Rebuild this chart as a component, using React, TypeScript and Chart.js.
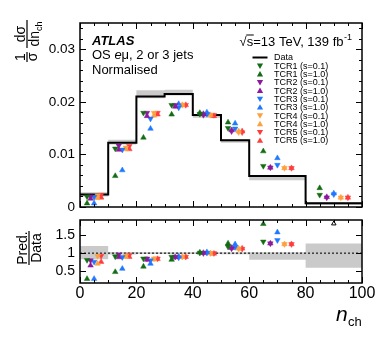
import { useEffect, useRef } from 'react';
import { Chart, registerables } from 'chart.js';

Chart.register(...registerables);

const FONT = '"Liberation Sans", Arial, Helvetica, sans-serif';

// ---------- data ----------
const binEdges = [0, 10, 20, 30, 40, 50, 60, 80, 100];
const dataValues = [0.0024, 0.0122, 0.0210, 0.0215, 0.0175, 0.0127, 0.0059, 0.0007];
const dataBandLow = [0.0020, 0.0119, 0.0207, 0.0212, 0.0170, 0.0122, 0.0051, 0.0004];
const dataBandHigh = [0.0028, 0.0128, 0.0222, 0.0223, 0.0177, 0.0129, 0.0060, 0.0009];
const ratioBandLow = [0.83, 0.965, 0.975, 0.975, 0.975, 0.97, 0.82, 0.60];
const ratioBandHigh = [1.20, 1.035, 1.025, 1.025, 1.025, 1.03, 1.03, 1.27];

const modelNames = ['TCR1', 'TCR2', 'TCR3', 'TCR4', 'TCR5'];
const modelColors = ['#146c14', '#8c1a9c', '#1f78ff', '#ffa040', '#ff3c3c'];
const modelOffsets = [0.25, 0.375, 0.5, 0.625, 0.75];
const sValues = ['0.1', '1.0'];

// top panel: 1/sigma dsigma/dn_ch
const tcr1s01 = [0.0020, 0.0111, 0.0179, 0.0194, 0.0177, 0.0150, 0.0078, 0.0023];
const tcr1s10 = [0.0007, 0.0059, 0.0132, 0.0176, 0.0179, 0.0161, 0.0106, 0.0036];
const tcr2s01 = [0.0020, 0.0117, 0.0179, 0.0194, 0.0175, 0.0144, 0.0075, 0.0018];
const tcr2s10 = [0.0016, 0.0109, 0.0173, 0.0191, 0.0177, 0.0146, 0.0075, 0.0019];
const tcr3s01 = [0.0019, 0.0109, 0.0168, 0.0189, 0.0177, 0.0149, 0.0080, 0.0024];
const tcr3s10 = [0.0007, 0.0070, 0.0149, 0.0196, 0.0180, 0.0159, 0.0093, 0.0026];
const tcr4s01 = [0.0022, 0.0113, 0.0179, 0.0194, 0.0175, 0.0142, 0.0074, 0.0018];
const tcr4s10 = [0.0017, 0.0110, 0.0174, 0.0194, 0.0175, 0.0144, 0.0074, 0.0018];
const tcr5s01 = [0.0023, 0.0116, 0.0179, 0.0194, 0.0175, 0.0142, 0.0074, 0.0018];
const tcr5s10 = [0.0018, 0.0110, 0.0176, 0.0194, 0.0173, 0.0144, 0.0074, 0.0018];

// ratio panel: Pred./Data (last bin off scale)
const tcr1s01Ratio = [0.81, 0.91, 0.85, 0.90, 1.01, 1.18, 1.32, null];
const tcr1s10Ratio = [0.29, 0.48, 0.63, 0.82, 1.02, 1.27, 1.81, null];
const tcr2s01Ratio = [0.80, 0.96, 0.85, 0.90, 1.00, 1.13, 1.27, null];
const tcr2s10Ratio = [0.66, 0.89, 0.82, 0.89, 1.01, 1.15, 1.27, null];
const tcr3s01Ratio = [0.76, 0.89, 0.80, 0.88, 1.01, 1.17, 1.36, null];
const tcr3s10Ratio = [0.29, 0.57, 0.71, 0.91, 1.03, 1.25, 1.58, null];
const tcr4s01Ratio = [0.92, 0.93, 0.85, 0.90, 1.00, 1.12, 1.25, null];
const tcr4s10Ratio = [0.71, 0.90, 0.83, 0.90, 1.00, 1.13, 1.25, null];
const tcr5s01Ratio = [0.93, 0.95, 0.85, 0.90, 1.00, 1.12, 1.25, null];
const tcr5s10Ratio = [0.76, 0.90, 0.84, 0.90, 0.99, 1.13, 1.25, null];
const offScaleArrowX = [90];
const offScaleArrowY = [1.82];

const topYTicks = [0, 0.01, 0.02, 0.03];
const topYLabels = ['0', '0.01', '0.02', '0.03'];
const ratioYTicks = [0.5, 1, 1.5];
const ratioYLabels = ['0.5', '1', '1.5'];
const xTicks = [0, 20, 40, 60, 80, 100];
const xLabels = ['0', '20', '40', '60', '80', '100'];

const series = [
  { m: 0, s: 0, top: tcr1s01, ratio: tcr1s01Ratio },
  { m: 0, s: 1, top: tcr1s10, ratio: tcr1s10Ratio },
  { m: 1, s: 0, top: tcr2s01, ratio: tcr2s01Ratio },
  { m: 1, s: 1, top: tcr2s10, ratio: tcr2s10Ratio },
  { m: 2, s: 0, top: tcr3s01, ratio: tcr3s01Ratio },
  { m: 2, s: 1, top: tcr3s10, ratio: tcr3s10Ratio },
  { m: 3, s: 0, top: tcr4s01, ratio: tcr4s01Ratio },
  { m: 3, s: 1, top: tcr4s10, ratio: tcr4s10Ratio },
  { m: 4, s: 0, top: tcr5s01, ratio: tcr5s01Ratio },
  { m: 4, s: 1, top: tcr5s10, ratio: tcr5s10Ratio },
];

// ---------- helpers ----------
function stepPoints(vals: number[]) {
  return binEdges.map((e, i) => ({ x: e, y: vals[Math.min(i, vals.length - 1)] }));
}
function markerPoints(vals: (number | null)[], m: number) {
  const pts: { x: number; y: number }[] = [];
  vals.forEach((v, i) => {
    if (v == null) return;
    const lo = binEdges[i];
    const hi = binEdges[i + 1];
    pts.push({ x: lo + modelOffsets[m] * (hi - lo), y: v });
  });
  return pts;
}
function markerDatasets(key: 'top' | 'ratio') {
  return series.map((sr) => ({
    type: 'line' as const,
    label: `${modelNames[sr.m]} (s=${sValues[sr.s]})`,
    data: markerPoints(sr[key], sr.m),
    showLine: false,
    pointStyle: 'triangle',
    rotation: sr.s === 0 ? 180 : 0,
    pointRadius: 3.2,
    pointBorderWidth: 0.5,
    pointBackgroundColor: modelColors[sr.m],
    pointBorderColor: modelColors[sr.m],
    borderColor: modelColors[sr.m],
    backgroundColor: modelColors[sr.m],
    order: 1,
  }));
}
function bandDatasets(lo: number[], hi: number[]) {
  return [
    {
      type: 'line' as const,
      label: 'bandLow',
      data: stepPoints(lo),
      stepped: 'before',
      borderWidth: 0,
      borderColor: 'rgba(0,0,0,0)',
      pointRadius: 0,
      fill: false,
      order: 5,
    },
    {
      type: 'line' as const,
      label: 'bandHigh',
      data: stepPoints(hi),
      stepped: 'before',
      borderWidth: 0,
      borderColor: 'rgba(0,0,0,0)',
      backgroundColor: '#cacaca',
      pointRadius: 0,
      fill: '-1',
      order: 4,
    },
  ];
}

function triPath(ctx: CanvasRenderingContext2D, x: number, y: number, r: number, down: boolean) {
  const s = down ? -1 : 1;
  const hx = r * Math.sin(Math.PI / 3);
  ctx.beginPath();
  ctx.moveTo(x, y - s * r);
  ctx.lineTo(x + hx, y + (s * r) / 2);
  ctx.lineTo(x - hx, y + (s * r) / 2);
  ctx.closePath();
}

function frameTicksPlugin(yMinorStep: number | null, yMajors: number[], yMin: number, yMax: number) {
  return {
    id: 'frameTicks',
    afterDatasetsDraw(chart: any) {
      const { ctx, chartArea: a, scales } = chart;
      const x = scales.x;
      const y = scales.y;
      ctx.save();
      ctx.strokeStyle = '#000';
      ctx.lineWidth = 1;
      ctx.beginPath();
      for (let v = 0; v <= 100.001; v += 5) {
        const px = Math.round(x.getPixelForValue(v)) + 0.5;
        const len = v % 20 === 0 ? 6 : 3;
        ctx.moveTo(px, a.bottom);
        ctx.lineTo(px, a.bottom - len);
        ctx.moveTo(px, a.top);
        ctx.lineTo(px, a.top + len);
      }
      const ys: { v: number; major: boolean }[] = yMajors.map((v) => ({ v, major: true }));
      if (yMinorStep) {
        for (let v = yMin; v <= yMax + 1e-9; v += yMinorStep) {
          if (!yMajors.some((m) => Math.abs(m - v) < yMinorStep / 10)) ys.push({ v, major: false });
        }
      }
      ys.forEach(({ v, major }) => {
        const py = Math.round(y.getPixelForValue(v)) + 0.5;
        const len = major ? 6 : 3;
        ctx.moveTo(a.left, py);
        ctx.lineTo(a.left + len, py);
        ctx.moveTo(a.right, py);
        ctx.lineTo(a.right - len, py);
      });
      ctx.stroke();
      ctx.lineWidth = 1.5;
      ctx.strokeRect(a.left, a.top, a.right - a.left, a.bottom - a.top);
      ctx.restore();
    },
  };
}

const topTextPlugin = {
  id: 'topText',
  afterDraw(chart: any) {
    const ctx: CanvasRenderingContext2D = chart.ctx;
    ctx.save();
    ctx.fillStyle = '#000';
    ctx.textAlign = 'left';
    ctx.textBaseline = 'alphabetic';
    // ATLAS label
    ctx.font = `italic bold 13px ${FONT}`;
    ctx.fillText('ATLAS', 92, 44.5);
    ctx.font = `13px ${FONT}`;
    let x = 92;
    ctx.fillText('OS ', x, 59);
    x += ctx.measureText('OS ').width;
    ctx.font = `italic 13px ${FONT}`;
    ctx.fillText('e', x, 59);
    x += ctx.measureText('e').width;
    ctx.font = `13px ${FONT}`;
    ctx.fillText('\u03bc, 2 or 3 jets', x, 59);
    ctx.fillText('Normalised', 92, 74);

    // sqrt(s) label, right aligned at 352
    ctx.font = `13px ${FONT}`;
    const p1 = '\u221a';
    const p2 = 's';
    const p3 = '=13 TeV, 139 fb';
    const w1 = ctx.measureText(p1).width;
    const w2 = ctx.measureText(p2).width;
    const w3 = ctx.measureText(p3).width;
    ctx.font = `9px ${FONT}`;
    const w4 = ctx.measureText('-1').width;
    let sx = 352 - (w1 + w2 + w3 + w4 + 0.5);
    const base = 45.5;
    ctx.font = `13px ${FONT}`;
    ctx.fillText(p1, sx, base);
    sx += w1;
    ctx.fillText(p2, sx, base);
    ctx.fillRect(sx - 0.5, base - 11, w2 + 1, 1);
    sx += w2;
    ctx.fillText(p3, sx, base);
    sx += w3 + 0.5;
    ctx.font = `9px ${FONT}`;
    ctx.fillText('-1', sx, base - 6);

    // legend
    const lx = 260;
    const ly0 = 57.5;
    const dy = 8.3;
    ctx.font = `9px ${FONT}`;
    ctx.textBaseline = 'middle';
    ctx.lineWidth = 2;
    ctx.strokeStyle = '#000';
    ctx.beginPath();
    ctx.moveTo(252.5, ly0);
    ctx.lineTo(267.5, ly0);
    ctx.stroke();
    ctx.fillText('Data', 274, ly0 + 0.5);
    series.forEach((sr, i) => {
      const yy = ly0 + dy * (i + 1);
      ctx.fillStyle = modelColors[sr.m];
      triPath(ctx, lx, yy + (sr.s === 0 ? -0.5 : 0.5), 3.6, sr.s === 0);
      ctx.fill();
      ctx.fillStyle = '#000';
      ctx.fillText(`${modelNames[sr.m]} (s=${sValues[sr.s]})`, 274, yy + 0.5);
    });

    // y axis title: 1/sigma dsigma/dn_ch (rotated)
    ctx.translate(27, 0);
    ctx.rotate(-Math.PI / 2);
    ctx.textBaseline = 'alphabetic';
    ctx.textAlign = 'center';
    ctx.font = `14px ${FONT}`;
    // fraction 1
    ctx.fillText('1', -57, -2.5);
    ctx.fillRect(-62, -0.6, 10, 1.2);
    ctx.fillText('\u03c3', -57, 9.5);
    // fraction 2
    ctx.fillText('d\u03c3', -34, -2.5);
    ctx.fillRect(-48, -0.6, 28, 1.2);
    ctx.textAlign = 'left';
    const wdn = ctx.measureText('dn').width;
    ctx.font = `9px ${FONT}`;
    const wch = ctx.measureText('ch').width;
    const st = -34 - (wdn + wch) / 2;
    ctx.font = `14px ${FONT}`;
    ctx.fillText('dn', st, 12);
    ctx.font = `9px ${FONT}`;
    ctx.fillText('ch', st + wdn, 14.5);
    ctx.restore();
  },
};

const ratioTextPlugin = {
  id: 'ratioText',
  afterDraw(chart: any) {
    const ctx: CanvasRenderingContext2D = chart.ctx;
    ctx.save();
    ctx.fillStyle = '#000';
    // x title n_ch
    ctx.textBaseline = 'alphabetic';
    ctx.textAlign = 'left';
    ctx.font = `italic 21px ${FONT}`;
    ctx.fillText('n', 336, 320.5);
    ctx.font = `13px ${FONT}`;
    ctx.fillText('ch', 348, 326);
    // y title Pred./Data
    ctx.translate(29, 0);
    ctx.rotate(-Math.PI / 2);
    ctx.textAlign = 'center';
    ctx.font = `14px ${FONT}`;
    ctx.fillText('Pred.', -248, -2.5);
    ctx.fillRect(-265, -0.6, 34, 1.2);
    ctx.fillText('Data', -248, 12);
    ctx.restore();
  },
};

export default function App() {
  const topRef = useRef<HTMLCanvasElement>(null);
  const ratioRef = useRef<HTMLCanvasElement>(null);

  useEffect(() => {
    Chart.defaults.font.family = FONT;
    Chart.defaults.color = '#000';

    const topCfg: any = {
      type: 'line',
      data: {
        datasets: [
          ...markerDatasets('top'),
          {
            type: 'line',
            label: 'Data',
            data: stepPoints(dataValues),
            stepped: 'before',
            borderColor: '#000',
            borderWidth: 2,
            pointRadius: 0,
            fill: false,
            order: 2,
          },
          ...bandDatasets(dataBandLow, dataBandHigh),
        ],
      },
      options: {
        responsive: false,
        animation: false,
        events: [],
        layout: { padding: { left: 0, right: 20, top: 23, bottom: 139 } },
        plugins: { legend: { display: false }, tooltip: { enabled: false } },
        scales: {
          x: { type: 'linear', min: 0, max: 100, display: false },
          y: {
            type: 'linear',
            min: 0,
            max: 0.035,
            grid: { display: false, drawTicks: false },
            border: { display: false },
            afterBuildTicks: (ax: any) => {
              ax.ticks = topYTicks.map((value) => ({ value }));
            },
            afterFit: (ax: any) => {
              ax.width = 80;
            },
            ticks: {
              padding: 5,
              font: { size: 13.5 },
              color: '#000',
              callback: (v: number) => {
                const i = topYTicks.findIndex((t) => Math.abs(t - v) < 1e-9);
                return i >= 0 ? topYLabels[i] : '';
              },
            },
          },
        },
      },
      plugins: [frameTicksPlugin(0.002, topYTicks, 0, 0.034), topTextPlugin],
    };

    const ratioCfg: any = {
      type: 'line',
      data: {
        datasets: [
          ...markerDatasets('ratio'),
          {
            type: 'line',
            label: 'offScale',
            data: offScaleArrowX.map((x, i) => ({ x, y: offScaleArrowY[i] })),
            showLine: false,
            pointStyle: 'triangle',
            pointRadius: 2.6,
            pointBorderWidth: 1,
            pointBackgroundColor: '#fff',
            pointBorderColor: '#000',
            order: 1,
          },
          {
            type: 'line',
            label: 'unity',
            data: [
              { x: 0, y: 1 },
              { x: 100, y: 1 },
            ],
            borderColor: '#444',
            borderWidth: 1.6,
            borderDash: [2, 2],
            pointRadius: 0,
            fill: false,
            order: 3,
          },
          ...bandDatasets(ratioBandLow, ratioBandHigh),
        ],
      },
      options: {
        responsive: false,
        animation: false,
        events: [],
        layout: { padding: { left: 0, right: 20, top: 220, bottom: 33 } },
        plugins: { legend: { display: false }, tooltip: { enabled: false } },
        scales: {
          x: {
            type: 'linear',
            min: 0,
            max: 100,
            grid: { display: false, drawTicks: false },
            border: { display: false },
            afterBuildTicks: (ax: any) => {
              ax.ticks = xTicks.map((value) => ({ value }));
            },
            afterFit: (ax: any) => {
              ax.height = 30;
            },
            ticks: {
              padding: 1,
              autoSkip: false,
              maxRotation: 0,
              font: { size: 16 },
              color: '#000',
              callback: (v: number) => {
                const i = xTicks.findIndex((t) => Math.abs(t - v) < 1e-9);
                return i >= 0 ? xLabels[i] : '';
              },
            },
          },
          y: {
            type: 'linear',
            min: 0.175,
            max: 1.92,
            grid: { display: false, drawTicks: false },
            border: { display: false },
            afterBuildTicks: (ax: any) => {
              ax.ticks = ratioYTicks.map((value) => ({ value }));
            },
            afterFit: (ax: any) => {
              ax.width = 80;
            },
            ticks: {
              padding: 5,
              font: { size: 14 },
              color: '#000',
              callback: (v: number) => {
                const i = ratioYTicks.findIndex((t) => Math.abs(t - v) < 1e-9);
                return i >= 0 ? ratioYLabels[i] : '';
              },
            },
          },
        },
      },
      plugins: [frameTicksPlugin(null, ratioYTicks, 0, 2), ratioTextPlugin],
    };

    const c1 = new Chart(topRef.current as HTMLCanvasElement, topCfg);
    const c2 = new Chart(ratioRef.current as HTMLCanvasElement, ratioCfg);
    return () => {
      c1.destroy();
      c2.destroy();
    };
  }, []);

  return (
    <div style={{ position: 'fixed', left: 0, top: 0, width: 382, height: 346, background: '#fff' }}>
      <canvas
        ref={topRef}
        width={382}
        height={346}
        style={{ position: 'absolute', left: 0, top: 0, width: 382, height: 346 }}
      />
      <canvas
        ref={ratioRef}
        width={382}
        height={346}
        style={{ position: 'absolute', left: 0, top: 0, width: 382, height: 346 }}
      />
    </div>
  );
}
